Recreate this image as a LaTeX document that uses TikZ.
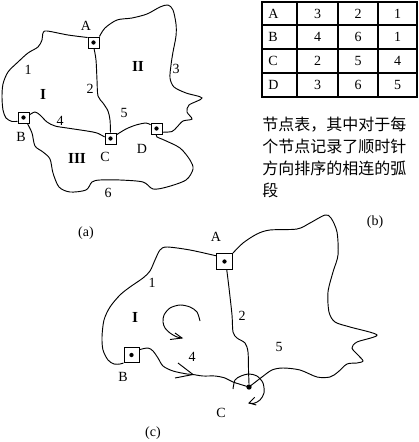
\documentclass[tikz,border=0pt]{standalone}
\usepackage{fontspec}
\setmainfont{Liberation Serif}
\newfontfamily\cjk{Noto Sans CJK SC}
\begin{document}
\begin{tikzpicture}[x=0.75pt,y=-0.75pt,line width=0.7pt,
  lbl/.style={font=\fontsize{10.5}{12}\selectfont,inner sep=0pt},
  region/.style={font=\fontsize{11.5}{13}\selectfont\bfseries,inner sep=0pt},
  nodebox/.style={draw,fill=white,minimum size=#1*0.75pt,inner sep=0pt,
    path picture={\fill[black] (path picture bounding box.center) circle (1.6pt);}},
  cdot/.style={circle,fill,inner sep=0pt,minimum size=4pt},
  cell/.style={font=\fontsize{10.5}{12}\selectfont,inner sep=0pt},
  desc/.style={font=\cjk\fontsize{12}{16}\selectfont,inner sep=0pt,anchor=base west},
  thinrule/.style={line width=0.8pt},
  thickrule/.style={line width=1.5pt}
]
\useasboundingbox (0,0) rectangle (418,442);

% ---------------- (a) ----------------
\node[nodebox=11] (Aa) at (93.5,42.5) {};
\node[nodebox=11] (Ba) at (23.5,117.5) {};
\node[nodebox=11] (Ca) at (110.5,138.5) {};
\node[nodebox=11] (Da) at (156.5,128.5) {};

% arc 1
\draw plot[smooth,tension=0.5] coordinates {(Aa.140) (68,35) (47,31) (43,33) (42,40) (38,47) (28,53) (18,62) (8,72) (3,84) (2,97) (3,110) (6,118) (12,121.5) (Ba.212)};
% arc 2
\draw plot[smooth,tension=0.5] coordinates {(Aa.275) (96,60) (97,80) (98,96) (103,103) (108,111) (110,120) (Ca.north)};
% arc 3
\draw plot[smooth,tension=0.5] coordinates {(Aa.45) (105,28) (117,20) (132,18) (147,14) (160,7) (168,5) (173,10) (176,24) (176,36) (173,52) (171,65) (170,78) (174,87) (186,93) (202,98) (189,105) (187,112) (192,119) (183,121) (177,127) (172,131.5) (Da.328)};
% arc 4
\draw plot[smooth,tension=0.5] coordinates {(Ba.24) (35,112) (40,115) (47,122) (55,126) (67,128) (87,131) (97,133) (Ca.165)};
% arc 5
\draw plot[smooth,tension=0.5] coordinates {(Ca.32) (126,129) (136,125) (146,123) (Da.148)};
% arc 6
\draw plot[smooth,tension=0.5] coordinates {(Ba.303) (32,133) (35,146) (43,152) (50,159) (53,173) (59,187) (70,192) (86,190) (92,182) (100,180) (120,180) (143,182) (153,189) (167,187) (186,180) (193,169) (190,160) (180,148) (164,140) (157,137) (Da.south)};

\node[lbl] (lAa) at (86,26) {A};
\node[lbl] (lBa) at (21,137) {B};
\node[lbl] (lCa) at (105,157) {C};
\node[lbl] (lDa) at (142,149) {D};
\node[lbl] (e1a) at (28,70) {1};
\node[lbl] (e2a) at (90,89) {2};
\node[lbl] (e3a) at (176,69) {3};
\node[lbl] (e4a) at (60,121) {4};
\node[lbl] (e5a) at (124,113) {5};
\node[lbl] (e6a) at (108,193) {6};
\node[region] (r1a) at (43,94) {I};
\node[region] (r2a) at (138,66) {II};
\node[region] (r3a) at (77,158) {III};
\node[lbl] (capa) at (86,233) {(a)};

% ---------------- (b) ----------------
\draw[thinrule] (262,2) rectangle (417,97);
\foreach \yy in {25,49,73} \draw[thickrule] (262,\yy) -- (417,\yy);
\foreach \xx in {297,338,378} \draw[thinrule] (\xx,2) -- (\xx,97);
\node[cell,anchor=west] (t11) at (268,13.5) {A};
\node[cell] (t12) at (317.5,13.5) {3};
\node[cell] (t13) at (358,13.5) {2};
\node[cell] (t14) at (397.5,13.5) {1};
\node[cell,anchor=west] (t21) at (268,37) {B};
\node[cell] (t22) at (317.5,37) {4};
\node[cell] (t23) at (358,37) {6};
\node[cell] (t24) at (397.5,37) {1};
\node[cell,anchor=west] (t31) at (268,61) {C};
\node[cell] (t32) at (317.5,61) {2};
\node[cell] (t33) at (358,61) {5};
\node[cell] (t34) at (397.5,61) {4};
\node[cell,anchor=west] (t41) at (268,85) {D};
\node[cell] (t42) at (317.5,85) {3};
\node[cell] (t43) at (358,85) {6};
\node[cell] (t44) at (397.5,85) {5};

\node[desc] (d1) at (262,130.5) {节点表，其中对于每};
\node[desc] (d2) at (262,152.5) {个节点记录了顺时针};
\node[desc] (d3) at (262,174) {方向排序的相连的弧};
\node[desc] (d4) at (262,196) {段};
\node[lbl] (capb) at (375,222) {(b)};

% ---------------- (c) ----------------
\node[nodebox=16] (Ac) at (224.5,261.5) {};
\node[nodebox=15] (Bc) at (131.5,355) {};
\node[cdot] (Cc) at (249,387) {};

% arc 1
\draw plot[smooth,tension=0.5] coordinates {(Ac.146) (190,250) (167,247) (160,250) (155,260) (150,271) (143,278) (130,287) (120,295) (110,307) (104,320) (102,337) (103,350) (108,360) (114,364) (120,364) (Bc.225)};
% arc 2
\draw plot[smooth,tension=0.5] coordinates {(Ac.285) (229,288) (232,315) (233,332) (237,338) (245,343) (248,352) (248.5,370) (Cc.north)};
% arc 3
\draw plot[smooth,tension=0.5] coordinates {(Ac.north east) (243,243) (257,234) (270,230) (297,229) (310,223) (325,215) (331,218) (337,232) (338,255) (333,272) (328,292) (329,312) (335,322) (350,327) (377,335) (357,342) (352,348) (358,355) (363,361) (357,363) (347,364) (338,372) (330,377) (317,377) (300,370) (283,368) (272,370) (262,377) (Cc)};
% arc 4
\draw plot[smooth,tension=0.5] coordinates {(Bc.34) (148,348) (153,351) (158,358) (163,366) (173,371) (187,374) (193,374.5) (203,376) (215,376) (225,378) (233,382) (Cc)};

% direction arrows
\draw (178,363) -- (193,374.5) -- (175,378);
\draw plot[smooth,tension=0.5] coordinates {(200,321) (197,312) (190,307) (180,305) (170,308) (164,315) (163,322) (165,328) (170,333) (177,337) (182,338)};
\draw (175,333) -- (182,338) -- (170,339.5);
\draw plot[smooth,tension=0.5] coordinates {(233,389) (235,380) (241,376) (249,374) (257,376) (263,383) (264,393) (260,400) (254,403.3) (249,403)};
\draw (254.7,397.3) -- (249,403) -- (256.3,405);

\node[lbl] (lAc) at (216,237) {A};
\node[lbl] (lBc) at (123,377) {B};
\node[lbl] (lCc) at (221,413) {C};
\node[lbl] (e1c) at (152,283) {1};
\node[lbl] (e2c) at (242,316) {2};
\node[lbl] (e4c) at (192,357) {4};
\node[lbl] (e5c) at (279,347) {5};
\node[region] (r1c) at (135,317) {I};
\node[lbl] (capc) at (153,433) {(c)};
\end{tikzpicture}
\end{document}
